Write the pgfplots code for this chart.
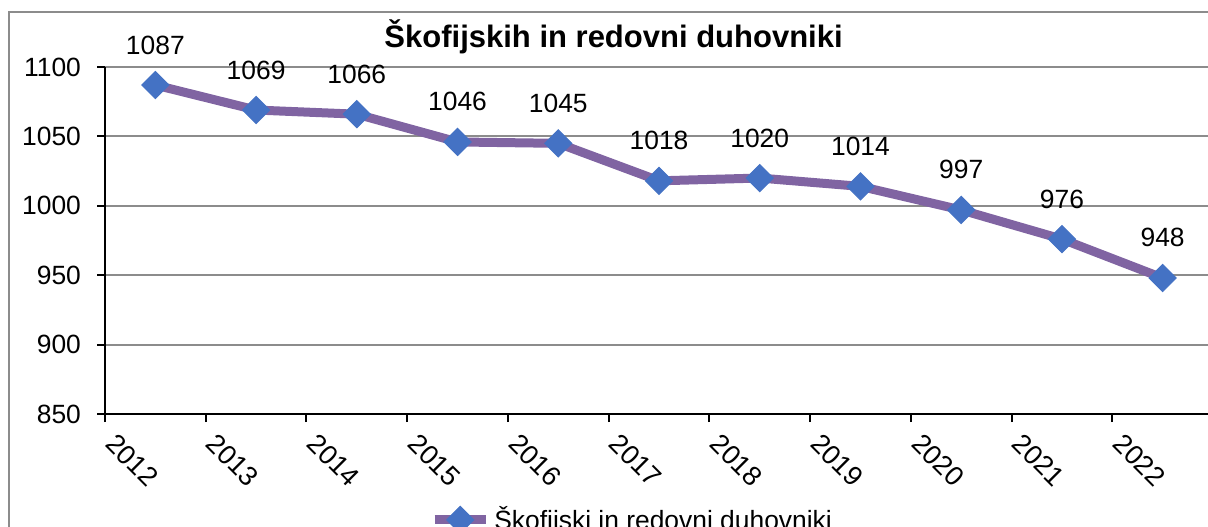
\documentclass[border=0pt]{standalone}
\usepackage{pgfplots}
\pgfplotsset{compat=1.18}
\usepackage{fontspec}
\setmainfont{Liberation Sans}
\definecolor{linepurple}{HTML}{8064A2}
\definecolor{markblue}{HTML}{4472C4}
\definecolor{gridgray}{HTML}{8C8C8C}
\begin{document}
\begin{tikzpicture}
\useasboundingbox (0,0) rectangle (604pt,263pt);
\draw[gridgray, line width=1pt] (4.5pt,-40pt) rectangle (640pt,257pt);
\begin{axis}[
  at={(52.5pt,56pt)}, anchor=south west,
  scale only axis, width=554pt, height=173.5pt,
  xmin=0, xmax=11, ymin=850, ymax=1100,
  xtick={0,1,2,3,4,5,6,7,8,9,10},
  xticklabels={2012,2013,2014,2015,2016,2017,2018,2019,2020,2021,2022},
  ytick={850,900,950,1000,1050,1100},
  axis x line=bottom, axis y line=left,
  axis line style={-, black, line width=1pt},
  tick align=outside, major tick length=4pt,
  tick style={black, line width=1pt},
  ymajorgrids, grid style={gridgray, line width=1pt},
  every tick label/.append style={font=\fontsize{13.2}{15}\selectfont},
  xticklabel style={xshift=6.3pt, yshift=0pt, rotate=-45, anchor=north west, font=\fontsize{13.6}{15}\selectfont},
  yticklabel style={xshift=-4.5pt},
  /pgf/number format/assume math mode=true,
  /pgf/number format/1000 sep={},
  clip=false,
  title={Škofijskih in redovni duhovniki},
  title style={at={(0.459,1.0576)}, anchor=base, yshift=-6pt, font=\bfseries\fontsize{15.5}{18}\selectfont},
  legend style={at={(0.4765,-0.305)}, anchor=center, draw=none, fill=none, font=\fontsize{13.2}{15}\selectfont},
  legend image code/.code={\draw[#1, mark repeat=2, mark phase=2] plot coordinates {(0cm,0cm)(0.45cm,0cm)(0.9cm,0cm)};},
]
\addplot[linepurple, line width=4.5pt, mark=square*, mark size=4.8pt,
  mark options={rotate=45, fill=markblue, draw=markblue, line width=0.5pt},
  nodes near coords, every node near coord/.style={anchor=base, yshift=15.5pt, font=\fontsize{13.2}{15}\selectfont, text=black}]
coordinates {(0.5,1087)(1.5,1069)(2.5,1066)(3.5,1046)(4.5,1045)(5.5,1018)(6.5,1020)(7.5,1014)(8.5,997)(9.5,976)(10.5,948)};
\addlegendentry{Škofijski in redovni duhovniki}
\end{axis}
\end{tikzpicture}
\end{document}
